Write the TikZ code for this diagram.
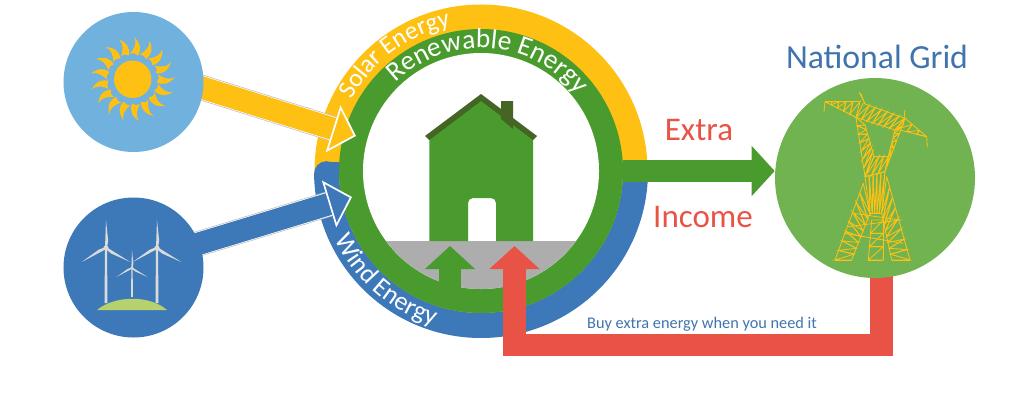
\documentclass[tikz,border=0pt]{standalone}
\usepackage{fontspec}
\setmainfont{Carlito}
\usetikzlibrary{calc, arrows.meta, decorations.text}
\definecolor{skyblue}{HTML}{71B1DD}
\definecolor{sunyellow}{HTML}{FEC113}
\definecolor{windblue}{HTML}{3D79B9}
\definecolor{housegreen}{HTML}{4A9B2D}
\definecolor{gridgreen}{HTML}{70B350}
\definecolor{roofgreen}{HTML}{446524}
\definecolor{buyred}{HTML}{E95345}
\definecolor{groundgray}{HTML}{ADADAD}
\definecolor{bladegray}{HTML}{DADADA}
\definecolor{hillgreen}{HTML}{B5D26E}
\definecolor{titleblue}{HTML}{3F74AE}
\pgfdeclarelayer{front}
\pgfsetlayers{main,front}
\newcommand{\latticepanel}[5]{
    \draw #1 -- #2 #3 -- #4;
    \foreach \k in {1,...,#5} {
        \pgfmathsetmacro\ta{(\k-1)/#5}
        \pgfmathsetmacro\tb{\k/#5}
        \draw ($#1!\ta!#2$) -- ($#3!\ta!#4$) -- ($#1!\tb!#2$) -- ($#3!\tb!#4$);
    }
}
\tikzset{
    disc/.style={circle, inner sep=0pt, fill=#1},
    ringtext/.style={decorate, decoration={text along path, text align=center, text={#1}}},
    bigword/.style={font=\fontsize{23.5}{28}\selectfont, text=buyred},
    feedarrow/.style={line width=5.6mm, shorten <=-3mm, draw=#1,
        -{Triangle[length=6mm, width=12.2mm, fill=#1, color=white, line width=1.2pt]},
        preaction={draw=gray!50, line width=6.3mm, -{Butt Cap}, shorten >=6mm},
        preaction={draw=white, line width=5.95mm, -{Butt Cap}, shorten >=6mm}},
    flowarrow/.style={line width=5.7mm, draw=#1, -{Triangle[length=5.75mm, width=12.2mm]}},
    turbine/.pic={
        \fill[bladegray] (-1,0) -- (1,0) -- (1.5,-#1) -- (-1.5,-#1) -- cycle;
        \foreach \b in {90,210,330}
            \fill[bladegray, rotate=\b] (0,-1) -- (7,-2.2) -- (28,0) -- (0,1) -- cycle;
        \fill[bladegray] (0,0) circle (2.6);
    }
}

\begin{document}
\begin{tikzpicture}[x=0.25mm, y=0.25mm]
    \useasboundingbox (0,0) rectangle (1024,409);

    % Source and grid circles stay above the arrows
    \begin{pgfonlayer}{front}
        \node[disc=skyblue, minimum size=35mm] (sun) at (133.5,327) {};
        \node[disc=windblue, minimum size=35mm] (wind) at (133.5,141.5) {};
        \node[disc=gridgreen, minimum size=50mm] (grid) at (875,231) {};

        % Sun
        \fill[sunyellow] (132.7,329.7) circle (18.7);
        \foreach \a in {0,21.2,...,340}
            \fill[sunyellow, shift={(132.7,329.7)}, rotate=\a]
                (24,-3) .. controls (30,-6) and (36,-5) .. (42,2)
                .. controls (36,-1) and (31,1) .. (25,5)
                .. controls (27,2) and (26,-1) .. cycle;

        % Turbines
        \foreach \x/\y/\s/\h in {106/161/1/55, 157/161/1/55, 132/141/0.63/46}
            \pic[scale=\s] at (\x,\y) {turbine=\h};
        \fill[hillgreen] (97,99) .. controls (115,114) and (150,114) .. (167,99) -- cycle;

        % Pylon, written in the pixels of a 3x crop
        \begin{scope}[shift={(620,379)}, x=0.08333mm, y=-0.08333mm, sunyellow, line width=0.6pt]
            \draw (612,245) -- (615,215) (718,187) -- (735,222) -- (722,190);
            \draw (855,240) -- (850,285) (920,320) -- (922,352);
            \latticepanel{(615,215)}{(720,215)}{(615,215)}{(708,262)}{5}
            \latticepanel{(730,220)}{(855,265)}{(708,262)}{(825,300)}{7}
            \latticepanel{(855,265)}{(920,320)}{(830,298)}{(920,320)}{3}
            \latticepanel{(708,262)}{(735,440)}{(735,285)}{(762,380)}{7}
            \latticepanel{(855,265)}{(795,425)}{(825,300)}{(805,380)}{7}
            \latticepanel{(762,380)}{(805,380)}{(735,440)}{(795,425)}{3}
            \latticepanel{(735,440)}{(795,425)}{(750,550)}{(785,550)}{5}
            \latticepanel{(730,460)}{(645,690)}{(750,550)}{(695,690)}{8}
            \latticepanel{(800,440)}{(870,690)}{(785,550)}{(815,690)}{8}
            \latticepanel{(755,570)}{(745,690)}{(790,570)}{(790,690)}{3}
            \draw (645,690) -- (695,690) (745,690) -- (790,690) (815,690) -- (870,690);
            \draw (685,590) -- (840,570) -- (700,550) (672,610) -- (850,640);
        \end{scope}
    \end{pgfonlayer}

    % Rings
    \node[disc=sunyellow, minimum size=83.25mm] (solarring) at (481,238) {};
    \draw[windblue, line width=6.25mm, line cap=round] ($(solarring.center)+(181:154.5)$) arc (181:358:154.5);
    \fill[windblue] (326,247) rectangle (345,232);
    \node[disc=housegreen, minimum size=71mm] (greenring) at (solarring.center) {};
    \node[disc=white, minimum size=59mm] (innercircle) at (solarring.center) {};

    % Ground
    \begin{scope}
        \clip (innercircle.center) circle (118);
        \fill[groundgray] (350,168) rectangle (610,100);
    \end{scope}

    % House
    \fill[housegreen] (429.3,275) -- (481,312) -- (533,275) -- (533,168) -- (496,168) -- (496,206)
        arc (0:90:5) -- (473,211) arc (90:180:5) -- (468,168) -- (429.3,168) -- cycle;
    \fill[roofgreen] (501,308) -- (513,308) -- (513,280) -- (501,290) -- cycle;
    \fill[roofgreen] (425,273) -- (481,315) -- (537,273) -- (533,269) -- (481,308) -- (429.3,269) -- cycle;

    % Arrows
    \coordinate (solartip) at (356,273);
    \coordinate (windtip) at (352,212);
    \coordinate (smalltip) at (450,163);
    \coordinate (smallfoot) at (450,112);
    \coordinate (buytip) at (514.5,163);
    \coordinate (buyturn) at (881.5,64);
    \draw[feedarrow=sunyellow] (sun.-5) -- (solartip);
    \draw[feedarrow=windblue] (wind.20) -- (windtip);
    \draw[flowarrow=housegreen] (greenring.east) -- (greenring.east -| grid.west);
    \draw[flowarrow=housegreen] (smallfoot) -- (smalltip);
    \draw[flowarrow=buyred] (buyturn |- grid.center) -- (buyturn) -| (buytip);

    % Ring texts
    \path[ringtext={|\fontsize{18}{20}\selectfont\color{white}|Solar Energy}] ($(solarring.center)+(152:148)$) arc (152:101:148);
    \path[ringtext={|\fontsize{19.5}{20}\selectfont\color{white}|Renewable Energy}] ($(solarring.center)+(138:123)$) arc (138:34:123);
    \path[ringtext={|\fontsize{18.5}{20}\selectfont\color{white}|Wind Energy}] ($(solarring.center)+(202:161)$) arc (202:256:161);

    % Labels
    \node[font=\fontsize{24}{28}\selectfont, text=titleblue] (gridtitle) at (877,352) {National Grid};
    \node[bigword] (extra) at (699,279) {Extra};
    \node[bigword] (income) at (703,192) {Income};
    \node[font=\fontsize{11.6}{13}\selectfont, text=titleblue] (buytext) at (702,85) {Buy extra energy when you need it};
\end{tikzpicture}
\end{document}
